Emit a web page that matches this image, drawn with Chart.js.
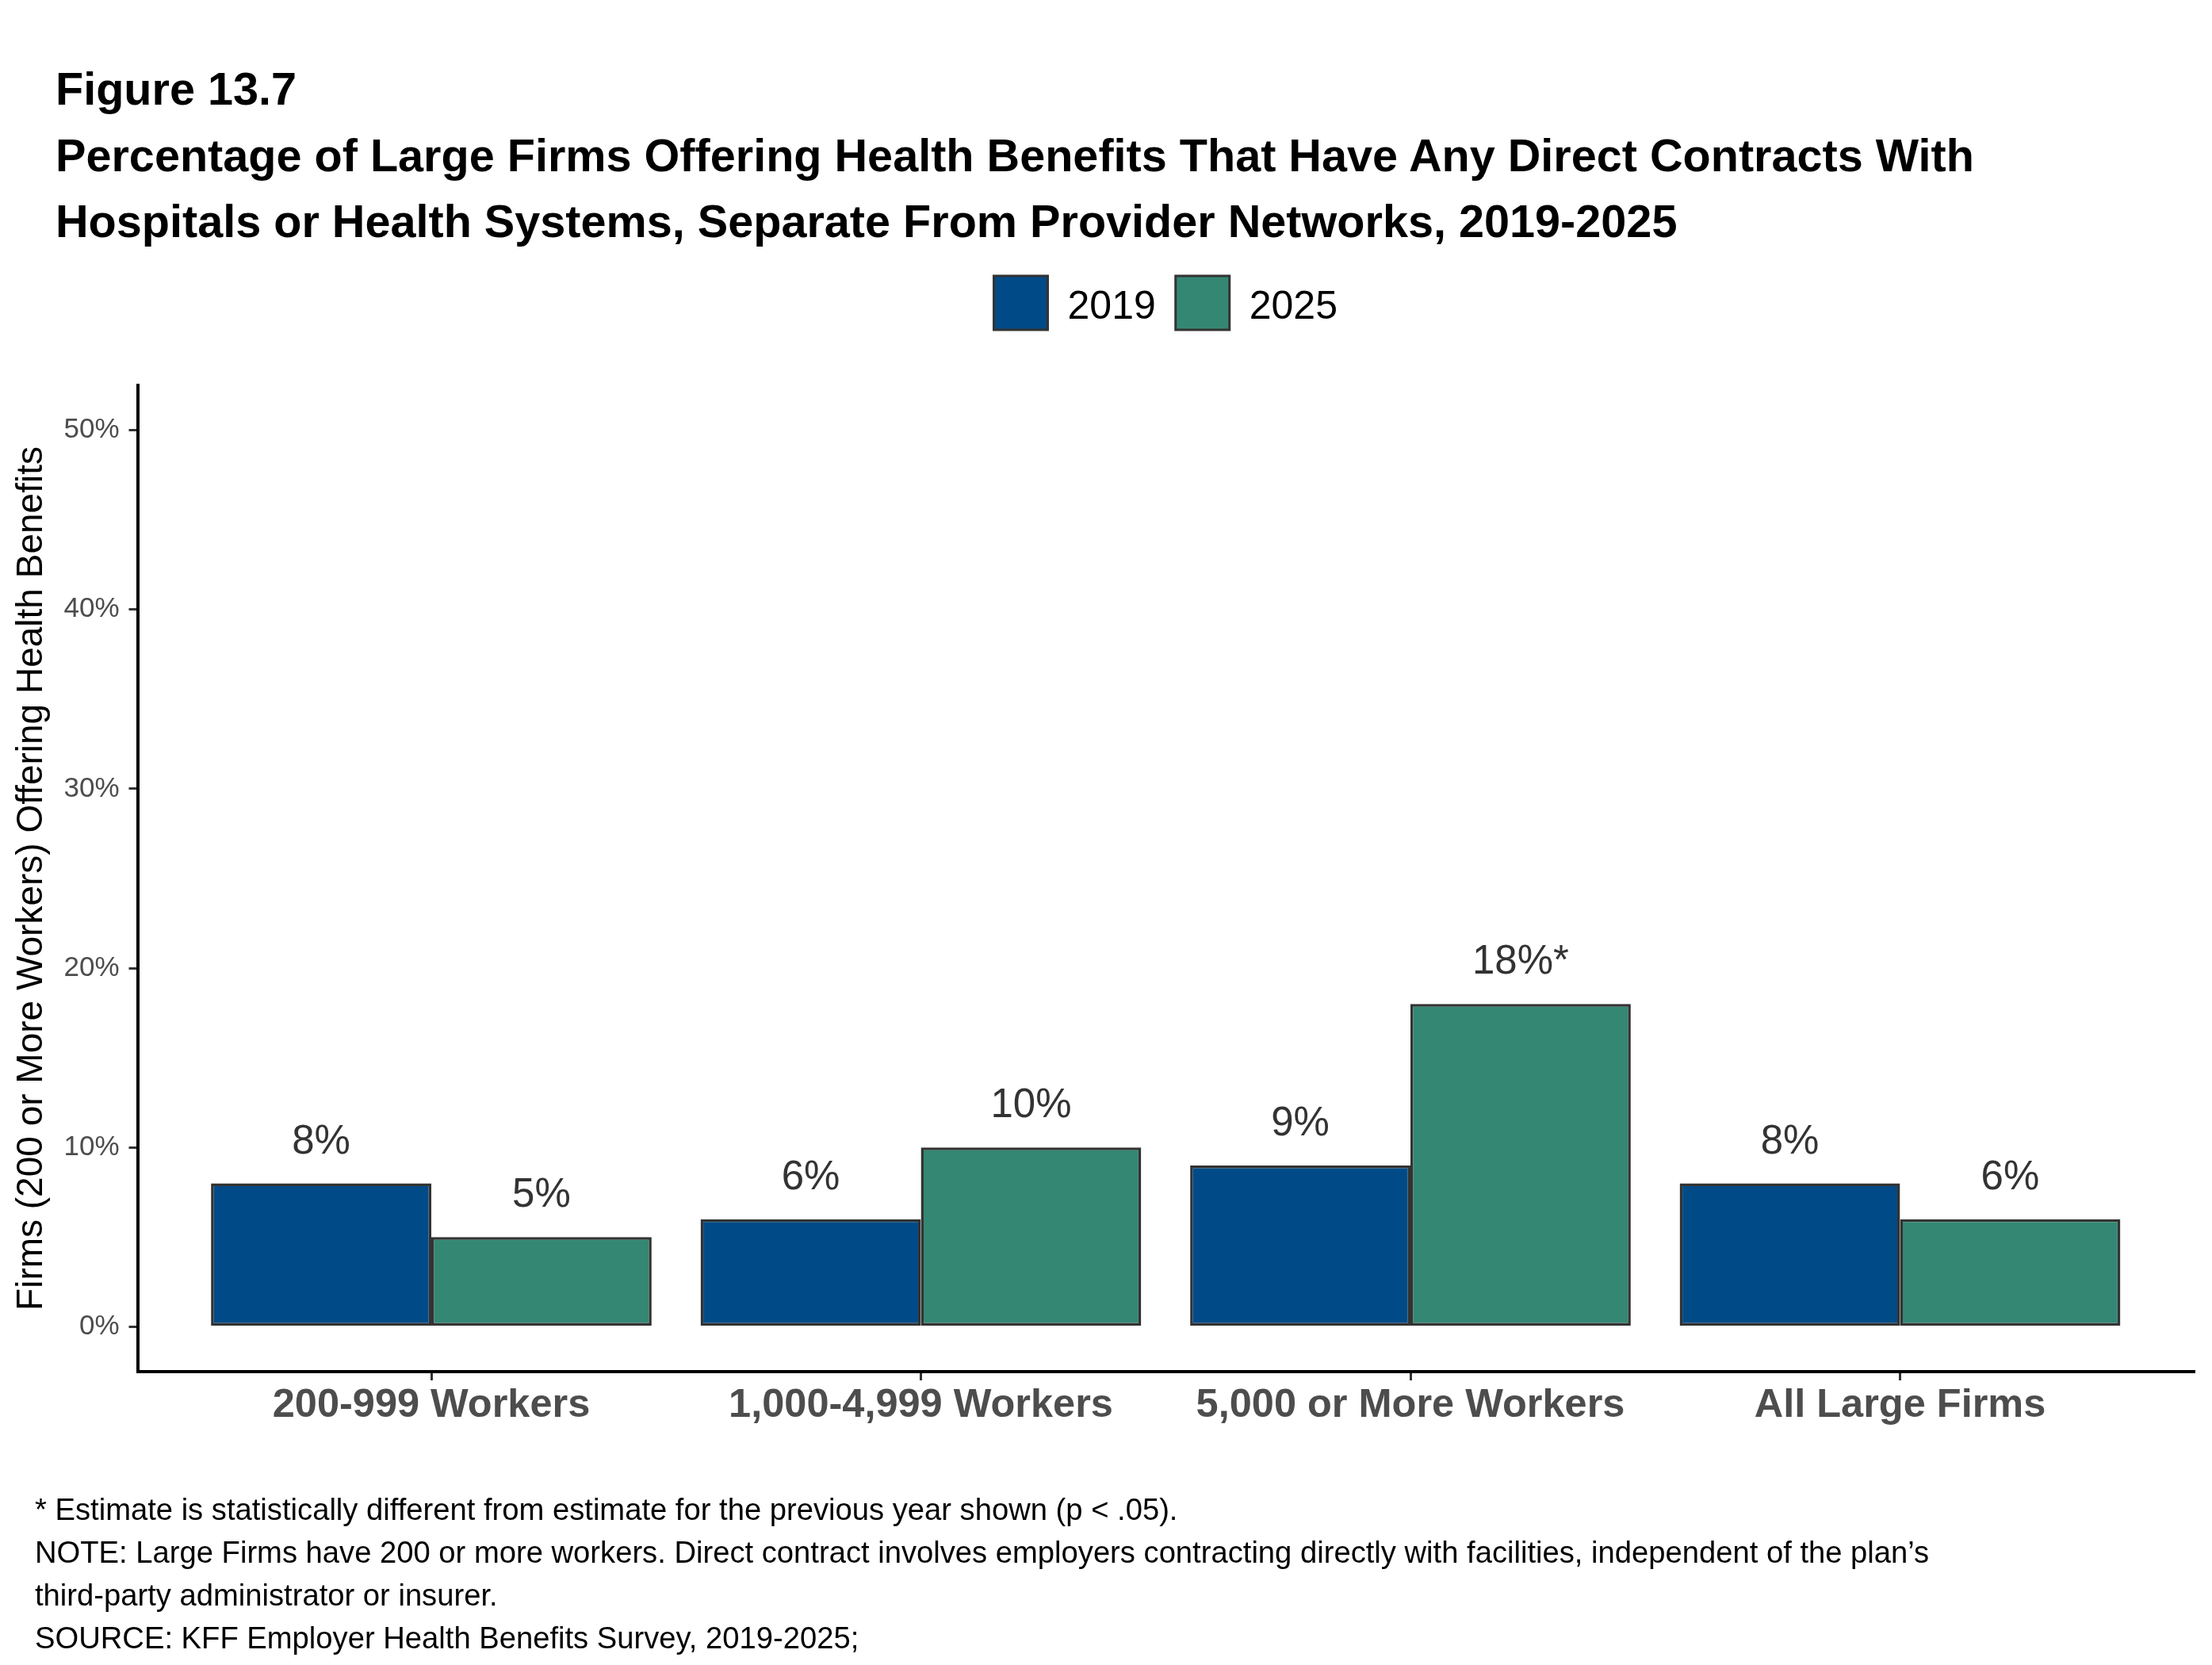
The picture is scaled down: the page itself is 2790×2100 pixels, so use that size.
<!DOCTYPE html>
<html>
<head>
<meta charset="utf-8">
<script src="https://cdn.jsdelivr.net/npm/chart.js@4/dist/chart.umd.min.js"></script>
<style>
  html, body { margin: 0; padding: 0; background: #fff; }
  body { width: 2790px; height: 2100px; position: relative; overflow: hidden;
         font-family: "Liberation Sans", Arial, sans-serif; }
  #wrap { position: absolute; left: 0; top: 0; width: 2790px; height: 2100px; }
  #titulo { position: absolute; left: 70px; top: 71px; font-size: 57.6px; line-height: 83.5px;
            font-weight: bold; color: #000; white-space: nowrap; }
  #notas { position: absolute; left: 44px; top: 1877px; font-size: 38.2px; line-height: 54px;
           color: #000; white-space: nowrap; }
</style>
</head>
<body>
<div id="wrap"><canvas id="grafico" width="2790" height="2100"></canvas></div>
<div id="titulo">
  <div>Figure 13.7</div>
  <div>Percentage of Large Firms Offering Health Benefits That Have Any Direct Contracts With</div>
  <div>Hospitals or Health Systems, Separate From Provider Networks, 2019-2025</div>
</div>
<div id="notas">
  <div>* Estimate is statistically different from estimate for the previous year shown (p &lt; .05).</div>
  <div>NOTE: Large Firms have 200 or more workers. Direct contract involves employers contracting directly with facilities, independent of the plan’s</div>
  <div>third-party administrator or insurer.</div>
  <div>SOURCE: KFF Employer Health Benefits Survey, 2019-2025;</div>
</div>
<script>
// Datos
const categorias = ['200-999 Workers', '1,000-4,999 Workers', '5,000 or More Workers', 'All Large Firms'];
const anios = ['2019', '2025'];
const valores2019 = [8, 6, 9, 8];
const valores2025 = [5, 10, 18, 6];
const signif2025 = [false, false, true, false];
const ticksY = [0, 10, 20, 30, 40, 50];

const colores = ['#004b87', '#348773'];
const FUENTE = '"Liberation Sans", Arial, sans-serif';

// Posiciones de las categorias en un eje lineal (1..4), como en ggplot
const puntos = (vals) => vals.map((v, i) => ({ x: i + 1, y: v }));

// Etiquetas de valor encima de cada barra
const etiquetasBarras = {
    id: 'etiquetasBarras',
    afterDatasetsDraw(chart) {
        const ctx = chart.ctx;
        ctx.save();
        ctx.font = '51px ' + FUENTE;
        ctx.fillStyle = '#333333';
        ctx.textAlign = 'center';
        ctx.textBaseline = 'alphabetic';
        chart.data.datasets.forEach((ds, i) => {
            chart.getDatasetMeta(i).data.forEach((barra, j) => {
                let txt = ds.data[j].y + '%';
                if (ds.signif && ds.signif[j]) txt += '*';
                ctx.fillText(txt, barra.x, barra.y - 38);
            });
        });
        ctx.restore();
    }
};

// Leyenda centrada sobre el area del grafico
const leyenda = {
    id: 'leyenda',
    afterDraw(chart) {
        const ctx = chart.ctx;
        const area = chart.chartArea;
        const caja = 68, sep = 25;
        ctx.save();
        ctx.font = '50px ' + FUENTE;
        const anchos = chart.data.datasets.map(ds => ctx.measureText(ds.label).width);
        let total = 0;
        anchos.forEach((w, i) => { total += caja + sep + w + (i < anchos.length - 1 ? sep : 0); });
        let x = (area.left + area.right) / 2 - total / 2;
        const y = 348;
        chart.data.datasets.forEach((ds, i) => {
            ctx.fillStyle = ds.backgroundColor;
            ctx.fillRect(x, y, caja, caja);
            ctx.lineWidth = 3;
            ctx.strokeStyle = '#333333';
            ctx.strokeRect(x, y, caja, caja);
            ctx.fillStyle = '#000';
            ctx.textBaseline = 'alphabetic';
            ctx.fillText(ds.label, x + caja + sep, y + 54);
            x += caja + sep + anchos[i] + sep;
        });
        ctx.restore();
    }
};

Chart.defaults.font.family = FUENTE;

new Chart(document.getElementById('grafico'), {
    type: 'bar',
    data: {
        datasets: [
            {
                label: anios[0],
                data: puntos(valores2019),
                backgroundColor: colores[0],
                borderColor: '#333333',
                borderWidth: 3.5,
                borderSkipped: false
            },
            {
                label: anios[1],
                data: puntos(valores2025),
                signif: signif2025,
                backgroundColor: colores[1],
                borderColor: '#333333',
                borderWidth: 3.5,
                borderSkipped: false
            }
        ]
    },
    options: {
        responsive: false,
        animation: false,
        devicePixelRatio: 1,
        layout: { padding: { left: 0, top: 486, right: 23, bottom: 250 } },
        datasets: { bar: { categoryPercentage: 0.9, barPercentage: 1.0 } },
        plugins: {
            legend: { display: false },
            tooltip: { enabled: false }
        },
        scales: {
            x: {
                type: 'linear',
                min: 0.4,
                max: 4.6,
                offset: false,
                afterBuildTicks: (scale) => { scale.ticks = categorias.map((c, i) => ({ value: i + 1 })); },
                afterFit: (scale) => { scale.height = 120; },
                ticks: {
                    callback: (v) => categorias[v - 1],
                    font: { size: 50.5, weight: 'bold' },
                    color: '#4d4d4d',
                    padding: 2,
                    maxRotation: 0,
                    autoSkip: false
                },
                grid: { drawOnChartArea: false, offset: false, tickLength: 11, lineWidth: 3, color: '#333333' },
                border: { display: true, color: '#000', width: 4 }
            },
            y: {
                min: -2.5,
                max: 52.5,
                afterBuildTicks: (scale) => { scale.ticks = ticksY.map(v => ({ value: v })); },
                afterFit: (scale) => { scale.width = 173.5; },
                ticks: {
                    callback: (v) => v + '%',
                    font: { size: 35 },
                    color: '#4d4d4d',
                    padding: 12
                },
                grid: { drawOnChartArea: false, tickLength: 11, lineWidth: 3, color: '#333333' },
                border: { display: true, color: '#000', width: 4 },
                title: {
                    display: true,
                    text: 'Firms (200 or More Workers) Offering Health Benefits',
                    font: { size: 46 },
                    color: '#000',
                    padding: { top: 13, bottom: 0 }
                }
            }
        }
    },
    plugins: [etiquetasBarras, leyenda]
});
</script>
</body>
</html>
